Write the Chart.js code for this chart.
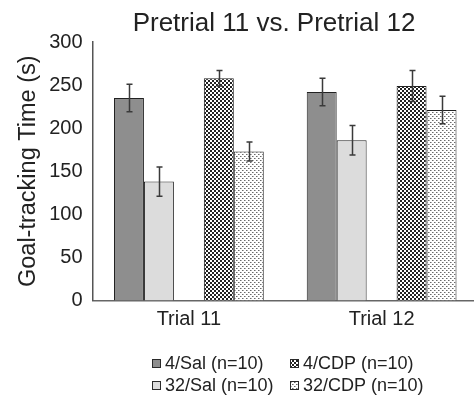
<!DOCTYPE html>
<html>
<head>
<meta charset="utf-8">
<script src="https://cdn.jsdelivr.net/npm/chart.js@4.4.0/dist/chart.umd.min.js"></script>
<style>
  html, body { margin: 0; padding: 0; background: #fff; overflow: hidden; }
  #wrap { width: 474px; height: 406px; overflow: hidden; }
</style>
</head>
<body>
<div id="wrap"><canvas id="myChart" width="478" height="406"></canvas></div>
<script>
let trials = ["Trial 11", "Trial 12"];
let seriesNames = ["4/Sal (n=10)", "32/Sal (n=10)", "4/CDP (n=10)", "32/CDP (n=10)"];
let sal4 = [235, 242];
let sal4Err = [16, 16];
let sal32 = [138, 186];
let sal32Err = [17, 17];
let cdp4 = [258, 249];
let cdp4Err = [9, 18];
let cdp32 = [173, 221];
let cdp32Err = [11, 16];
let yTicks = [0, 50, 100, 150, 200, 250, 300];

let fontName = "'Liberation Sans', Arial, sans-serif";

// little tiles for the dotted fills
function makePattern(size, draw) {
    let tile = document.createElement("canvas");
    tile.width = size;
    tile.height = size;
    let tctx = tile.getContext("2d");
    tctx.fillStyle = "#fff";
    tctx.fillRect(0, 0, size, size);
    draw(tctx);
    return tctx.createPattern(tile, "repeat");
}

let densePattern = makePattern(4, function (t) {
    t.fillStyle = "#222";
    t.fillRect(0, 0, 2, 2);
    t.fillRect(2, 2, 2, 2);
});

let sparsePattern = makePattern(4, function (t) {
    t.fillStyle = "#6a6a6a";
    t.fillRect(0, 0, 1, 1);
    t.fillRect(2, 2, 1, 1);
    t.fillStyle = "#b0b0b0";
    t.fillRect(1, 0, 1, 1);
    t.fillRect(3, 2, 1, 1);
});

let fills = ["#8e8e8e", "#dcdcdc", densePattern, sparsePattern];
let values = [sal4, sal32, cdp4, cdp32];
let errors = [sal4Err, sal32Err, cdp4Err, cdp32Err];

function barSet(i) {
    return {
        label: seriesNames[i],
        data: values[i],
        errors: errors[i],
        backgroundColor: fills[i],
        borderColor: "#222",
        borderWidth: 1,
        borderSkipped: "bottom"
    };
}

// empty slot between the Sal and CDP pairs
let spacer = { label: "", data: [null, null], backgroundColor: "transparent" };

let extras = {
    id: "extras",
    afterDatasetsDraw: function (chart) {
        let ctx = chart.ctx;
        let yScale = chart.scales.y;
        ctx.save();
        ctx.strokeStyle = "#3a3a3a";
        ctx.lineWidth = 1.5;
        chart.data.datasets.forEach(function (ds, i) {
            if (!ds.errors) return;
            let meta = chart.getDatasetMeta(i);
            meta.data.forEach(function (bar, j) {
                let v = ds.data[j];
                let e = ds.errors[j];
                let top = yScale.getPixelForValue(v + e);
                let bottom = yScale.getPixelForValue(v - e);
                let x = Math.round(bar.x) + 0.5;
                ctx.beginPath();
                ctx.moveTo(x, top);
                ctx.lineTo(x, bottom);
                ctx.moveTo(x - 3, top);
                ctx.lineTo(x + 3, top);
                ctx.moveTo(x - 3, bottom);
                ctx.lineTo(x + 3, bottom);
                ctx.stroke();
            });
        });
        ctx.restore();
    },
    afterDraw: function (chart) {
        let ctx = chart.ctx;
        ctx.save();
        ctx.fillStyle = "#222";
        ctx.font = "26px " + fontName;
        ctx.textAlign = "center";
        ctx.textBaseline = "middle";
        ctx.fillText("Pretrial 11 vs. Pretrial 12", 274, 24);

        // legend: two columns, Sal on the left, CDP on the right
        let order = [0, 2, 1, 3];
        let spots = [[152, 359], [290, 359], [152, 381], [290, 381]];
        ctx.font = "18px " + fontName;
        ctx.textAlign = "left";
        order.forEach(function (k, n) {
            let bx = spots[n][0];
            let by = spots[n][1];
            ctx.fillStyle = fills[k];
            ctx.fillRect(bx, by, 8, 8);
            ctx.strokeStyle = "#2a2a2a";
            ctx.lineWidth = 1;
            ctx.strokeRect(bx + 0.5, by + 0.5, 8, 8);
            ctx.fillStyle = "#222";
            ctx.fillText(seriesNames[k], bx + 13, by + 5);
        });
        ctx.restore();
    }
};

let myChart = new Chart(document.getElementById("myChart").getContext("2d"), {
    type: "bar",
    data: {
        labels: trials,
        datasets: [barSet(0), barSet(1), spacer, barSet(2), barSet(3)]
    },
    plugins: [extras],
    options: {
        responsive: false,
        animation: false,
        layout: { padding: { top: 42, right: 0, left: 0, bottom: 0 } },
        datasets: { bar: { barPercentage: 1, categoryPercentage: 0.777 } },
        plugins: {
            legend: { display: false },
            title: { display: false },
            tooltip: { enabled: false }
        },
        scales: {
            x: {
                grid: { display: false, drawTicks: false },
                border: { color: "#666", width: 1.5 },
                ticks: { color: "#222", font: { family: fontName, size: 20 }, padding: 7 },
                afterFit: function (scale) { scale.height = 105.5; }
            },
            y: {
                min: 0,
                max: 300,
                afterBuildTicks: function (scale) {
                    scale.ticks = yTicks.map(function (v) { return { value: v }; });
                },
                grid: { display: false, drawTicks: false },
                border: { color: "#555", width: 1.5 },
                ticks: { color: "#222", font: { family: fontName, size: 20 }, padding: 10 },
                title: {
                    display: true,
                    text: "Goal-tracking Time (s)",
                    color: "#222",
                    font: { family: fontName, size: 23.5 },
                    padding: { top: 14, bottom: 0 }
                },
                afterFit: function (scale) { scale.width = 92.5; }
            }
        }
    }
});
</script>
</body>
</html>
